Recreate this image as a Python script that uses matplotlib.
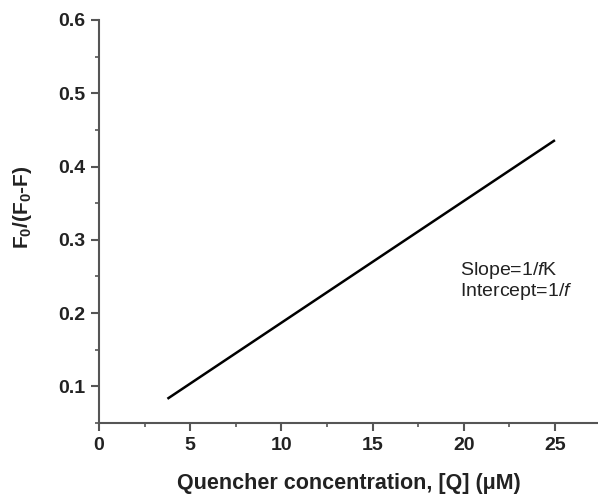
import numpy as np
import matplotlib
matplotlib.use("Agg")
import matplotlib.pyplot as plt
from matplotlib.ticker import MultipleLocator

plt.rcParams["font.family"] = "Liberation Sans"
plt.rcParams["mathtext.fontset"] = "custom"
plt.rcParams["mathtext.rm"] = "Liberation Sans:bold"
plt.rcParams["mathtext.it"] = "Liberation Sans:italic"

# fitted line end points
conc = [3.75, 25.0]
ratio = [0.083, 0.436]

x_ticks = [0, 5, 10, 15, 20, 25]
y_ticks = [0.1, 0.2, 0.3, 0.4, 0.5, 0.6]

axis_grey = "#555555"
text_col = "#222222"

fig = plt.figure(figsize=(5.98, 4.95), dpi=100)
ax = fig.add_axes([0.1656, 0.1455, 0.8344, 0.8141])

ax.plot(conc, ratio, color="black", linewidth=1.8, solid_capstyle="butt")

ax.set_xlim(0, 27.36)
ax.set_ylim(0.05, 0.6)
ax.set_xticks(x_ticks)
ax.set_yticks(y_ticks)
ax.xaxis.set_minor_locator(MultipleLocator(2.5))
ax.yaxis.set_minor_locator(MultipleLocator(0.05))

for side in ["top", "right"]:
    ax.spines[side].set_visible(False)
for side in ["left", "bottom"]:
    ax.spines[side].set_color(axis_grey)
    ax.spines[side].set_linewidth(1.5)

ax.tick_params(which="major", direction="out", length=6, width=1.5,
               color=axis_grey, labelsize=14, labelcolor=text_col, pad=4)
ax.tick_params(which="minor", direction="out", length=3, width=1.2,
               color=axis_grey)
for lab in ax.get_xticklabels() + ax.get_yticklabels():
    lab.set_fontweight("bold")

ax.set_xlabel("Quencher concentration, [Q] (\u03bcM)", fontsize=15.5,
              fontweight="bold", color=text_col, labelpad=14)
ax.set_ylabel("F$_0$/(F$_0$-F)", fontsize=15, fontweight="bold",
              color=text_col)
ax.yaxis.set_label_coords(-0.13, 0.535)

ax.text(19.8, 0.258, "Slope=1/$\\it{f}$K", fontsize=14, color=text_col,
        va="center", ha="left")
ax.text(19.8, 0.229, "Intercept=1/$\\it{f}$", fontsize=14, color=text_col,
        va="center", ha="left")

fig.savefig("out.png", dpi=100, facecolor="white")
